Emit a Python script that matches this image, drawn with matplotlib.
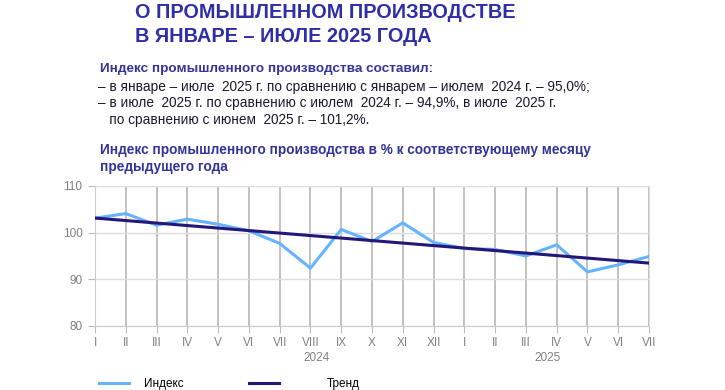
import numpy as np
import matplotlib.pyplot as plt
from matplotlib.lines import Line2D

plt.rcParams['font.family'] = ['Liberation Sans', 'DejaVu Sans']

# months Jan 2024 .. Jul 2025
months = ['I', 'II', 'III', 'IV', 'V', 'VI', 'VII', 'VIII', 'IX', 'X', 'XI', 'XII',
          'I', 'II', 'III', 'IV', 'V', 'VI', 'VII']
index_vals = [103.1, 104.1, 101.6, 102.9, 101.8, 100.4, 97.7, 92.4, 100.7, 98.1, 102.1,
              97.9, 96.6, 96.4, 95.0, 97.4, 91.6, 93.1, 94.9]
years = ['2024', '2025']
year_pos = [7.2, 14.7]
yticks = [80, 90, 100, 110]

x = np.arange(len(months))
k, b = np.polyfit(x, index_vals, 1)
trend = k * x + b

fig = plt.figure(figsize=(7.25, 3.9), dpi=100)
fig.patch.set_facecolor('white')

title_col = '#2e2ea8'
fig.text(135 / 725, 1 - 12 / 390, 'О ПРОМЫШЛЕННОМ ПРОИЗВОДСТВЕ', fontsize=14.3,
         fontweight='bold', color=title_col, va='center')
fig.text(135 / 725, 1 - 36 / 390, 'В ЯНВАРЕ – ИЮЛЕ 2025 ГОДА', fontsize=14.3,
         fontweight='bold', color=title_col, va='center')

fig.text(100 / 725, 1 - 69 / 390, 'Индекс промышленного производства составил:',
         fontsize=9.7, fontweight='bold', color='#33339a', va='center')
body = ['– в январе – июле  2025 г. по сравнению с январем – июлем  2024 г. – 95,0%;',
        '– в июле  2025 г. по сравнению с июлем  2024 г. – 94,9%, в июле  2025 г.',
        '   по сравнению с июнем  2025 г. – 101,2%.']
for i, line in enumerate(body):
    fig.text(98 / 725, 1 - (87 + i * 16.5) / 390, line, fontsize=9.8,
             color='#1a1a2e', va='center')

fig.text(100 / 725, 1 - 150 / 390,
         'Индекс промышленного производства в % к соответствующему месяцу',
         fontsize=9.8, fontweight='bold', color='#33339a', va='center')
fig.text(100 / 725, 1 - 167 / 390, 'предыдущего года',
         fontsize=9.8, fontweight='bold', color='#33339a', va='center')

ax = fig.add_axes([95 / 725, 1 - 326 / 390, (649 - 95) / 725, (326 - 186) / 390])
ax.plot(x, index_vals, color='#66b3ff', lw=2.2, label='Индекс', zorder=3)
ax.plot(x, trend, color='#24177a', lw=2.2, label='Тренд', zorder=4)

ax.set_xlim(0, len(months) - 1)
ax.set_ylim(80, 110)
ax.set_yticks(yticks)
ax.set_xticks(x)
ax.set_xticklabels(months)
ax.tick_params(axis='both', labelsize=8.5, labelcolor='#808080', color='#bbbbbb')
ax.tick_params(axis='x', length=5, pad=3)
ax.tick_params(axis='y', length=5, pad=4)
ax.grid(axis='x', color='#b0b0b0', lw=1.1)
ax.grid(axis='y', color='#dddddd', lw=1)
ax.set_axisbelow(True)
for s in ax.spines.values():
    s.set_color('#dddddd')
ax.spines['left'].set_color('#cccccc')
ax.spines['bottom'].set_color('#cccccc')

# year labels under months
for yr, pos in zip(years, year_pos):
    ax.text(pos, -0.23, yr, transform=ax.get_xaxis_transform(), ha='center',
            va='center', fontsize=8.5, color='#808080')

# legend: two separate entries, spaced like the original
lines = ax.get_lines()
leg1 = fig.legend([lines[0]], ['Индекс'], loc='center left',
                  bbox_to_anchor=(88 / 725, 1 - 384 / 390), frameon=False,
                  fontsize=8.5, handlelength=2.55, handletextpad=1.27)
leg2 = fig.legend([lines[1]], ['Тренд'], loc='center left',
                  bbox_to_anchor=(238 / 725, 1 - 384 / 390), frameon=False,
                  fontsize=8.5, handlelength=2.55, handletextpad=4.07)

fig.savefig('out.png', dpi=100)
